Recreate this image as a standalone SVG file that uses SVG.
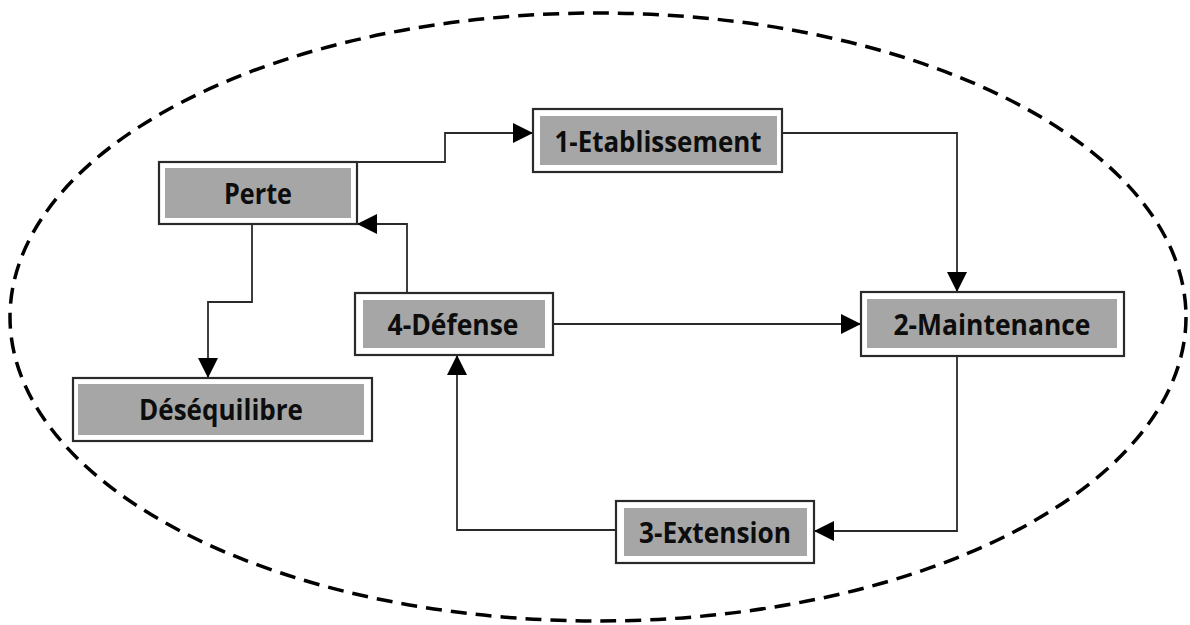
<svg xmlns="http://www.w3.org/2000/svg" width="1190" height="625" viewBox="0 0 1190 625">
  <defs>
    <marker id="arr" viewBox="0 0 20 20" refX="20" refY="10" markerWidth="20" markerHeight="20" markerUnits="userSpaceOnUse" orient="auto">
      <path d="M0,0 L20,10 L0,20 z" fill="#000"/>
    </marker>
    <style>
      .outer { fill: #fff; stroke: #2a2a2a; stroke-width: 2.2; }
      .inner { fill: #a6a6a6; stroke: none; }
      .lbl { font-family: "Open Sans", "Noto Sans", "Liberation Sans", sans-serif; font-weight: bold; font-size: 29px; fill: #0d0d0d; text-anchor: middle; }
      .conn { fill: none; stroke: #2a2a2a; stroke-width: 1.8; marker-end: url(#arr); }
      .boundary { fill: none; stroke: #000; stroke-width: 3.5; stroke-dasharray: 16 9; }
    </style>
  </defs>
  <rect width="1190" height="625" fill="#fff"/>
  <ellipse class="boundary" cx="598" cy="317" rx="588" ry="304"/>

  <g id="connectors">
    <path class="conn" d="M357,162 H445 V133 H533"/>
    <path class="conn" d="M782,133 H957 V292"/>
    <path class="conn" d="M553,324 H861"/>
    <path class="conn" d="M957,356 V531 H814"/>
    <path class="conn" d="M616,530 H457 V355"/>
    <path class="conn" d="M407,293 V224 H357"/>
    <path class="conn" d="M252,224 V302 H208 V378"/>
  </g>

  <g id="perte">
    <rect class="outer" x="159" y="162" width="198" height="62"/>
    <rect class="inner" x="165" y="168" width="186" height="50"/>
    <text class="lbl" x="258" y="204" textLength="68" lengthAdjust="spacingAndGlyphs">Perte</text>
  </g>
  <g id="etablissement">
    <rect class="outer" x="533" y="109" width="249" height="63"/>
    <rect class="inner" x="540" y="116" width="237" height="49"/>
    <text class="lbl" x="658" y="152" textLength="207" lengthAdjust="spacingAndGlyphs">1-Etablissement</text>
  </g>
  <g id="maintenance">
    <rect class="outer" x="861" y="292" width="263" height="64"/>
    <rect class="inner" x="867" y="299" width="250" height="49"/>
    <text class="lbl" x="992" y="335" textLength="197" lengthAdjust="spacingAndGlyphs">2-Maintenance</text>
  </g>
  <g id="defense">
    <rect class="outer" x="355" y="293" width="198" height="62"/>
    <rect class="inner" x="363" y="300" width="182" height="48"/>
    <text class="lbl" x="453" y="335" textLength="131" lengthAdjust="spacingAndGlyphs">4-Défense</text>
  </g>
  <g id="desequilibre">
    <rect class="outer" x="73" y="378" width="299" height="63"/>
    <rect class="inner" x="78" y="384" width="286" height="51"/>
    <text class="lbl" x="221" y="420" textLength="164" lengthAdjust="spacingAndGlyphs">Déséquilibre</text>
  </g>
  <g id="extension">
    <rect class="outer" x="616" y="501" width="198" height="62"/>
    <rect class="inner" x="624" y="508" width="183" height="48"/>
    <text class="lbl" x="715" y="543" textLength="152" lengthAdjust="spacingAndGlyphs">3-Extension</text>
  </g>
</svg>
